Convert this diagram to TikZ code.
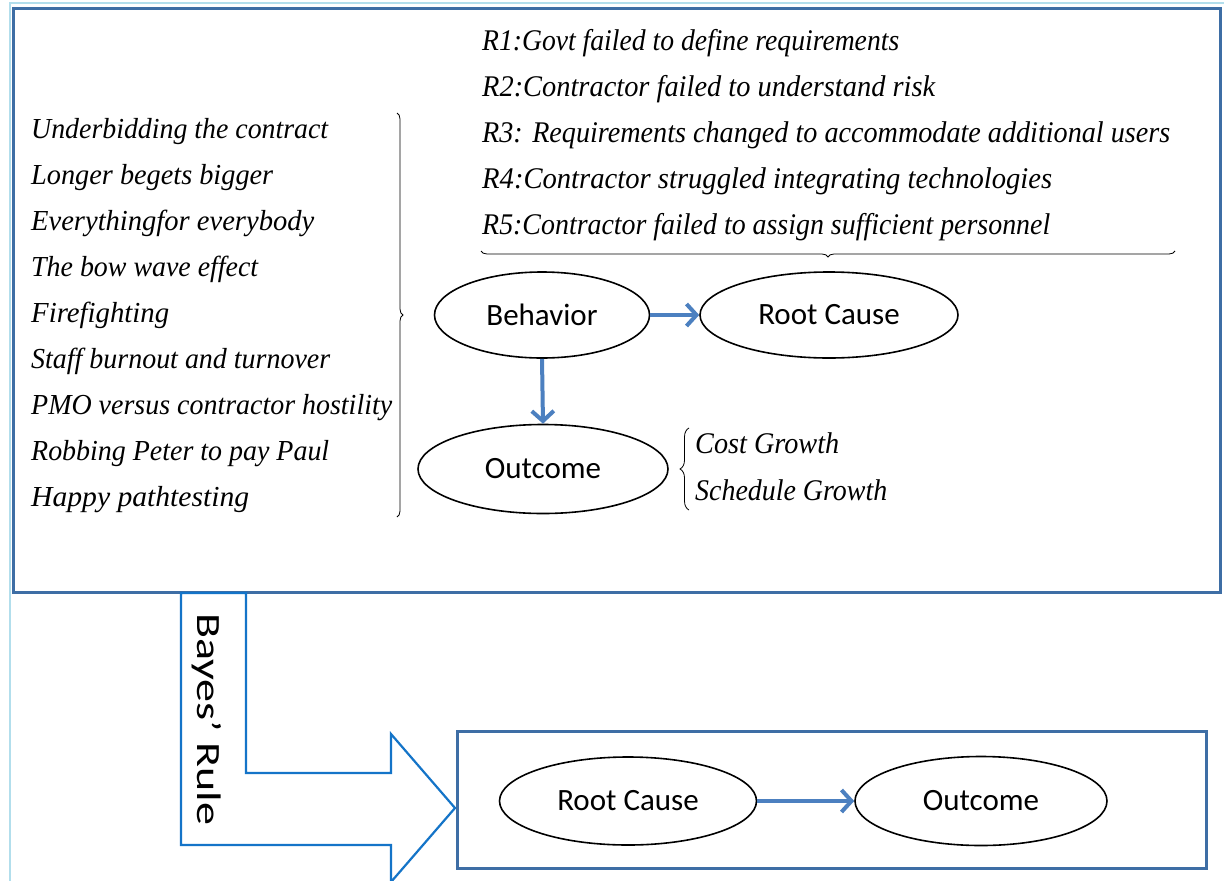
\documentclass[tikz,border=0pt]{standalone}
\usepackage{fontspec}
\setmainfont{Liberation Serif}
\newfontfamily\calfont{Carlito}
\usetikzlibrary{shapes.geometric,arrows.meta,decorations.pathreplacing}
\definecolor{boxblue}{RGB}{62,110,165}
\definecolor{arrblue}{RGB}{76,128,192}
\definecolor{bayesblue}{RGB}{20,116,200}
\definecolor{lightcyan}{RGB}{178,222,236}
\newcommand{\fitw}[2]{\resizebox{#1}{\height}{#2}}
\begin{document}
\begin{tikzpicture}[x=1pt,y=-1pt,
  boxline/.style={draw=boxblue, line width=3pt},
  ell/.style={ellipse, draw=black, line width=1.6pt, inner sep=0pt, font=\calfont\fontsize{31}{36}\selectfont},
  arr/.style={draw=arrblue, line width=4pt, -{Straight Barb[length=10pt,width=22pt]}},
  item/.style={anchor=base west, inner sep=0pt, font=\itshape\fontsize{29}{32}\selectfont},
  ritem/.style={anchor=base west, inner sep=0pt, font=\itshape\fontsize{30}{32}\selectfont},
  brc/.style={draw=black, line width=0.8pt, decorate, decoration={brace, amplitude=#1}},
]
\useasboundingbox (0,0) rectangle (1224,881);
\fill[white] (0,0) rectangle (1224,881);
% faint outer guide lines
\draw[lightcyan, line width=1.5pt] (10,881) -- (10,3) -- (1224,3);
% top box
\draw[boxline] (13,8) rectangle (1220,592);
% left list
\node[item] (l1) at (31,138) {\fitw{297pt}{Underbidding the contract}};
\node[item] (l2) at (31,184) {\fitw{242pt}{Longer begets bigger}};
\node[item] (l3) at (31,230) {\fitw{283pt}{Everythingfor everybody}};
\node[item] (l4) at (31,276) {\fitw{227pt}{The bow wave effect}};
\node[item] (l5) at (31,322) {\fitw{138pt}{Firefighting}};
\node[item] (l6) at (31,368) {\fitw{299pt}{Staff burnout and turnover}};
\node[item] (l7) at (31,414) {\fitw{361pt}{PMO versus contractor hostility}};
\node[item] (l8) at (31,460) {\fitw{298pt}{Robbing Peter to pay Paul}};
\node[item] (l9) at (31,506) {\fitw{218pt}{Happy pathtesting}};
\draw[brc=6pt] (397,113) -- (397,517);
% root cause list
\node[ritem] (r1) at (482,50) {\fitw{417pt}{R1:Govt failed to define requirements}};
\node[ritem] (r2) at (482,96) {\fitw{453pt}{R2:Contractor failed to understand risk}};
\node[ritem] (r3) at (482,142) {\fitw{688pt}{R3: Requirements changed to accommodate additional users}};
\node[ritem] (r4) at (482,188) {\fitw{570pt}{R4:Contractor struggled integrating technologies}};
\node[ritem] (r5) at (482,234) {\fitw{568pt}{R5:Contractor failed to assign sufficient personnel}};
\draw[brc=6pt] (1175,251) -- (481,251);
% top network
\node[ell, minimum width=215pt, minimum height=86pt] (beh) at (542,315) {Behavior};
\node[ell, minimum width=258pt, minimum height=86pt] (rc) at (829,315) {Root Cause};
\node[ell, minimum width=250pt, minimum height=89pt] (out) at (543,469) {Outcome};
\draw[arr] (beh) -- (rc);
\draw[arr] (beh.south) -- (out.north);
\draw[brc=9pt] (689,510) -- (689,428);
\node[ritem] (cg) at (695,453) {\fitw{144pt}{Cost Growth}};
\node[ritem] (sg) at (695,500) {\fitw{192pt}{Schedule Growth}};
% Bayes arrow
\draw[draw=bayesblue, line width=2.2pt, line join=miter]
  (181,593) -- (246,593) -- (246,773) -- (391,773) -- (391,734) -- (455,808)
  -- (391,882) -- (391,845) -- (181,845) -- cycle;
\node[rotate=-90, anchor=base, inner sep=0pt, font=\calfont\fontsize{34}{40}\selectfont] (bayes) at (197,719) {\fitw{212pt}{Bayes’ Rule}};
% bottom box
\draw[boxline] (457,731) rectangle (1206,868);
\node[ell, minimum width=257pt, minimum height=88pt] (rc2) at (628,801) {Root Cause};
\node[ell, minimum width=252pt, minimum height=89pt] (oc2) at (981,801) {Outcome};
\draw[arr] (rc2) -- (oc2);
\end{tikzpicture}
\end{document}
